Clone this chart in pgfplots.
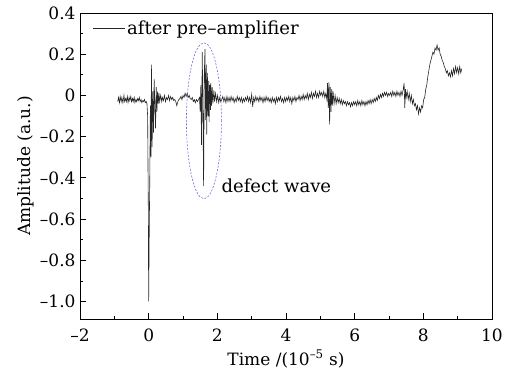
\documentclass[border=0pt]{standalone}
\usepackage{fontspec}
\setmainfont{DejaVu Serif}
\usepackage{pgfplots}
\pgfplotsset{compat=1.18}
\pgfplotstableread{
x y
-0.90 -0.03
-0.88 -0.01
-0.85 -0.035
-0.83 -0.005
-0.80 -0.03
-0.78 -0.01
-0.75 -0.035
-0.72 0.0
-0.70 -0.03
-0.67 -0.015
-0.65 -0.03
-0.62 -0.005
-0.60 -0.035
-0.57 -0.01
-0.55 -0.025
-0.52 -0.005
-0.50 -0.03
-0.47 -0.015
-0.45 -0.03
-0.42 -0.01
-0.40 -0.035
-0.37 -0.02
-0.35 -0.03
-0.32 -0.015
-0.30 -0.025
-0.27 -0.01
-0.25 -0.03
-0.22 -0.02
-0.20 -0.035
-0.17 -0.025
-0.15 -0.03
-0.12 -0.02
-0.10 -0.035
-0.07 -0.03
-0.05 -0.04
-0.03 -0.1
-0.01 -0.55
0.00 -1.00
0.02 -0.60
0.03 -0.45
0.05 -0.05
0.07 -0.30
0.08 0.15
0.10 -0.25
0.12 0.02
0.14 -0.18
0.16 0.08
0.18 -0.05
0.20 -0.16
0.22 0.04
0.24 -0.08
0.26 0.02
0.28 -0.04
0.30 0.01
0.32 -0.03
0.35 0.0
0.38 -0.03
0.40 -0.01
0.43 -0.025
0.46 0.0
0.49 -0.03
0.52 -0.01
0.55 -0.02
0.58 0.0
0.61 -0.025
0.64 -0.005
0.67 -0.02
0.70 -0.01
0.73 -0.025
0.76 -0.02
0.79 -0.03
0.82 -0.05
0.85 -0.03
0.88 -0.02
0.91 -0.015
0.94 -0.005
0.97 -0.02
1.00 0.0
1.03 -0.01
1.06 0.01
1.09 -0.005
1.12 0.01
1.15 -0.01
1.18 0.0
1.21 -0.015
1.24 -0.02
1.27 -0.01
1.30 -0.03
1.33 -0.02
1.36 -0.035
1.39 -0.02
1.42 -0.03
1.45 -0.02
1.48 -0.01
1.50 -0.08
1.52 0.05
1.54 -0.24
1.56 0.21
1.58 -0.05
1.60 -0.44
1.62 0.10
1.64 0.225
1.66 -0.12
1.68 0.15
1.69 -0.19
1.71 0.11
1.73 -0.10
1.75 0.07
1.76 -0.13
1.78 0.05
1.80 -0.07
1.81 0.06
1.83 -0.05
1.85 0.04
1.87 -0.04
1.90 0.025
1.92 -0.03
1.95 0.01
1.98 -0.03
2.01 0.0
2.04 -0.035
2.07 -0.01
2.10 -0.03
2.13 -0.02
2.16 -0.005
2.19 -0.03
2.22 -0.01
2.25 -0.035
2.28 -0.005
2.31 -0.03
2.34 -0.01
2.37 -0.03
2.40 -0.005
2.43 -0.025
2.46 -0.01
2.49 -0.035
2.52 -0.015
2.55 -0.03
2.58 -0.005
2.61 -0.025
2.64 -0.01
2.67 -0.03
2.70 -0.01
2.73 -0.035
2.76 -0.015
2.79 -0.03
2.82 -0.01
2.85 -0.025
2.88 -0.005
2.91 -0.03
2.94 -0.01
2.97 -0.035
3.00 0.005
3.03 -0.055
3.06 -0.01
3.09 -0.03
3.12 -0.005
3.15 -0.025
3.18 -0.01
3.21 -0.03
3.24 -0.005
3.27 -0.025
3.30 -0.01
3.33 -0.035
3.36 -0.01
3.39 -0.03
3.42 -0.005
3.45 -0.025
3.48 -0.01
3.51 -0.03
3.54 -0.015
3.57 -0.035
3.60 -0.01
3.63 -0.03
3.66 -0.015
3.69 -0.04
3.72 -0.01
3.75 -0.03
3.78 -0.01
3.81 -0.025
3.84 -0.005
3.87 -0.03
3.90 -0.015
3.93 -0.035
3.96 -0.01
3.99 -0.03
4.02 -0.01
4.05 -0.025
4.08 -0.005
4.11 -0.03
4.14 -0.01
4.17 -0.04
4.20 -0.01
4.23 -0.025
4.26 -0.005
4.29 -0.03
4.32 -0.01
4.35 -0.02
4.38 0.0
4.41 -0.025
4.44 -0.005
4.47 -0.02
4.50 0.005
4.53 -0.02
4.56 0.0
4.59 -0.015
4.62 0.01
4.65 -0.02
4.68 0.005
4.71 -0.01
4.74 0.015
4.77 -0.015
4.80 0.01
4.83 -0.005
4.86 0.02
4.89 -0.01
4.92 0.01
4.95 -0.01
4.98 0.02
5.01 0.0
5.04 0.015
5.07 -0.005
5.10 0.02
5.13 -0.01
5.16 0.01
5.19 -0.02
5.21 0.06
5.23 -0.06
5.25 0.065
5.27 -0.14
5.29 0.04
5.31 -0.08
5.33 0.03
5.35 -0.05
5.37 0.02
5.40 -0.04
5.43 0.0
5.46 -0.04
5.49 -0.01
5.52 -0.035
5.55 -0.015
5.58 -0.04
5.61 -0.02
5.64 -0.045
5.67 -0.025
5.70 -0.04
5.73 -0.03
5.76 -0.05
5.79 -0.03
5.82 -0.045
5.85 -0.035
5.88 -0.055
5.91 -0.035
5.94 -0.05
5.97 -0.03
6.00 -0.045
6.03 -0.03
6.06 -0.05
6.09 -0.025
6.12 -0.045
6.15 -0.03
6.18 -0.05
6.21 -0.025
6.24 -0.045
6.27 -0.03
6.30 -0.05
6.33 -0.03
6.36 -0.045
6.39 -0.025
6.42 -0.04
6.45 -0.02
6.48 -0.04
6.51 -0.02
6.54 -0.035
6.57 -0.015
6.60 -0.03
6.63 -0.01
6.66 -0.025
6.69 0.0
6.72 -0.015
6.75 0.005
6.78 -0.01
6.81 0.01
6.84 -0.005
6.87 0.015
6.90 0.0
6.93 0.015
6.96 -0.005
6.99 0.01
7.02 0.0
7.05 0.015
7.08 -0.005
7.11 0.02
7.14 0.0
7.17 0.015
7.20 -0.005
7.23 0.02
7.26 0.0
7.29 0.015
7.32 -0.005
7.35 0.02
7.38 0.0
7.41 0.025
7.44 0.06
7.46 -0.06
7.48 0.03
7.50 -0.01
7.53 0.02
7.56 -0.02
7.59 0.01
7.62 -0.03
7.65 0.0
7.68 -0.04
7.71 -0.02
7.74 -0.05
7.77 -0.04
7.80 -0.07
7.83 -0.05
7.86 -0.09
7.89 -0.06
7.92 -0.08
7.95 -0.05
7.98 -0.06
8.01 -0.02
8.04 -0.01
8.07 0.03
8.10 0.05
8.13 0.09
8.16 0.12
8.19 0.15
8.22 0.17
8.25 0.19
8.28 0.21
8.31 0.20
8.34 0.23
8.37 0.22
8.40 0.245
8.43 0.22
8.46 0.23
8.49 0.20
8.52 0.19
8.55 0.17
8.58 0.16
8.61 0.14
8.64 0.13
8.67 0.11
8.70 0.12
8.73 0.095
8.76 0.11
8.79 0.09
8.82 0.12
8.85 0.095
8.88 0.13
8.91 0.105
8.94 0.14
8.97 0.11
9.00 0.135
9.03 0.105
9.06 0.14
9.09 0.11
9.12 0.13
}\signal
\begin{document}
\begin{tikzpicture}
\useasboundingbox (-80bp,-53bp) rectangle (436bp,319bp);
\begin{axis}[
  scale only axis,
  width=412bp, height=306bp,
  xmin=-2, xmax=10, ymin=-1.085, ymax=0.4,
  xtick={-2,0,2,4,6,8,10},
  xticklabels={–2,0,2,4,6,8,10},
  ytick={-1.0,-0.8,-0.6,-0.4,-0.2,0,0.2,0.4},
  yticklabels={–1.0,–0.8,–0.6,–0.4,–0.2,0,0.2,0.4},
  minor x tick num=1,
  minor y tick num=1,
  tick pos=left,
  tick align=inside,
  major tick length=6bp,
  minor tick length=3bp,
  axis line style={line width=0.8bp},
  every tick/.style={line width=0.7bp, black},
  tick label style={font=\fontsize{17bp}{20bp}\selectfont},
  label style={font=\fontsize{17bp}{20bp}\selectfont},
  yticklabel style={xshift=-1bp},
  xticklabel style={yshift=-6bp},
  xlabel={Time /(10\textsuperscript{–5} s)},
  ylabel={Amplitude (a.u.)},
  xlabel style={yshift=-2bp},
  ylabel style={yshift=-1bp},
  legend style={draw=none, fill=none, at={(0.03,0.95)}, anchor=west,
    font=\fontsize{18bp}{21bp}\selectfont, inner sep=0pt},
  legend cell align=left,
  legend image code/.code={\draw[#1] (0bp,0bp) -- (32bp,0bp);},
  clip=false,
]
\addplot[black!85, line width=0.6bp] table[x=x,y=y] {\signal};
\addlegendentry{after pre–amplifier}
\draw[draw={rgb,255:red,110;green,110;blue,220}, line width=0.6bp, dash pattern=on 2bp off 1.5bp]
  (axis cs:1.61,-0.123) ellipse [x radius=17.5bp, y radius=78bp];
\node[anchor=west, font=\fontsize{18bp}{21bp}\selectfont, inner sep=0pt] at (axis cs:2.12,-0.44) {defect wave};
\end{axis}
\end{tikzpicture}
\end{document}
